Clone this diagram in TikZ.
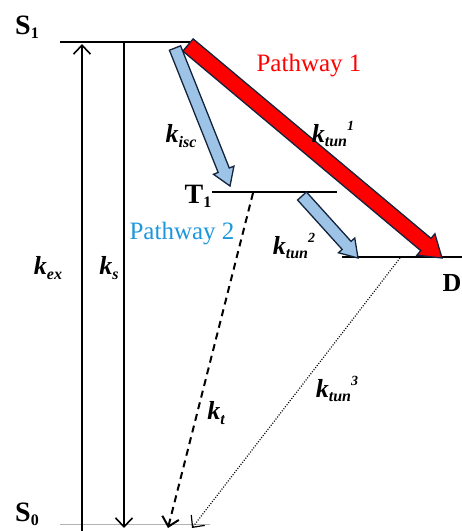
\documentclass[tikz,border=0pt]{standalone}
\usepackage{fontspec}
\setmainfont{Liberation Serif}
\usetikzlibrary{arrows.meta,calc}

\definecolor{edgeblue}{RGB}{20,35,60}
\definecolor{pathred}{RGB}{255,0,0}
\definecolor{pathblue}{RGB}{157,195,230}
\definecolor{textblue}{RGB}{30,150,220}

% rate constant k with subscript and optional superscript
\newcommand{\krate}[2]{\textbf{\textit{k\raisebox{-0.4ex}{\fontsize{16}{16}\selectfont #1}\raisebox{1.0ex}{\fontsize{14}{14}\selectfont #2}}}}
% state label
\newcommand{\lvl}[2]{\textbf{#1\raisebox{-0.3ex}{\fontsize{16}{16}\selectfont #2}}}
% broad outlined arrow: from, to, shaft half width, head half width, head length, fill
\newcommand{\fatarrow}[6]{%
  \coordinate (fa-c) at ($(#2)!#5!(#1)$);
  \filldraw[fill=#6, draw=edgeblue, line width=1.3pt, line join=miter]
    ($(#1)!#3!90:(#2)$) -- ($(fa-c)!#3!90:(#2)$) -- ($(fa-c)!#4!90:(#2)$) -- (#2)
    -- ($(fa-c)!#4!-90:(#2)$) -- ($(fa-c)!#3!-90:(#2)$) -- ($(#1)!#3!-90:(#2)$) -- cycle;
}

\begin{document}
\begin{tikzpicture}[x=1pt, y=-1pt, >={Straight Barb[length=9pt,width=17pt]},
    level/.style={line width=2pt},
    rate/.style={font=\fontsize{26}{28}\selectfont},
    state/.style={font=\fontsize{28}{30}\selectfont},
    pathlabel/.style={font=\fontsize{25}{28}\selectfont}]
  \useasboundingbox (0,0) rectangle (462,531);

  % energy levels
  \coordinate (s1L) at (60,42);
  \coordinate (s1R) at (190,42);
  \coordinate (t1L) at (212,192);
  \coordinate (t1R) at (337,192);
  \coordinate (dL) at (342,257);
  \coordinate (dR) at (462,257);
  \coordinate (s0L) at (60,524);
  \coordinate (s0R) at (210,524);
  \draw[level] (s1L) -- (s1R);
  \draw[level] (t1L) -- (t1R);
  \draw[level] (dL) -- (dR);
  \draw[line width=1pt, black!30] (s0L) -- (s0R);

  \node[state] (S1) at (27,27) {\lvl{S}{1}};
  \node[state] (S0) at (27,514) {\lvl{S}{0}};
  \node[state] (T1) at (198,196) {\lvl{T}{1}};
  \node[state, font=\fontsize{26}{28}\selectfont] (D) at (452,283) {\textbf{D}};

  % radiative and nonradiative decay
  \coordinate (exBot) at (82,531);
  \coordinate (exTop) at (82,44);
  \coordinate (sTop) at (124,42);
  \coordinate (sBot) at (124,528);
  \coordinate (tTop) at (253,193);
  \coordinate (tBot) at (168,528);
  \coordinate (dTop) at (400,258);
  \coordinate (dBot) at (192,528);
  \draw[->, line width=1.6pt] (exBot) -- (exTop);
  \draw[->, line width=1.6pt] (sTop) -- (sBot);
  \draw[->, line width=2pt, dash pattern=on 7pt off 5pt] (tTop) -- (tBot);
  \draw[->, line width=1.2pt, dash pattern=on 1pt off 1.6pt] (dTop) -- (dBot);

  % tunnelling pathways
  \coordinate (iscTop) at (175,48);
  \coordinate (iscTip) at (230,186);
  \coordinate (tunTop) at (302,196);
  \coordinate (tunTip) at (358,258);
  \coordinate (redTop) at (188,45);
  \coordinate (redTip) at (442,258);
  \fatarrow{redTop}{redTip}{8pt}{14pt}{21pt}{pathred}
  \fatarrow{iscTop}{iscTip}{6pt}{11pt}{17pt}{pathblue}
  \fatarrow{tunTop}{tunTip}{6pt}{11pt}{17pt}{pathblue}

  % labels
  \node[rate] (kex) at (48,268) {\krate{ex}{}};
  \node[rate] (ks) at (109,268) {\krate{s}{}};
  \node[rate] (kisc) at (181,136) {\krate{isc}{}};
  \node[rate] (ktun1) at (333,134) {\krate{tun}{1}};
  \node[rate] (ktun2) at (294,246) {\krate{tun}{2}};
  \node[rate] (kt) at (216,413) {\krate{t}{}};
  \node[rate] (ktun3) at (337,389) {\krate{tun}{3}};
  \node[pathlabel, text=pathred] (path1) at (309,66) {Pathway 1};
  \node[pathlabel, text=textblue] (path2) at (182,234) {Pathway 2};
\end{tikzpicture}
\end{document}
